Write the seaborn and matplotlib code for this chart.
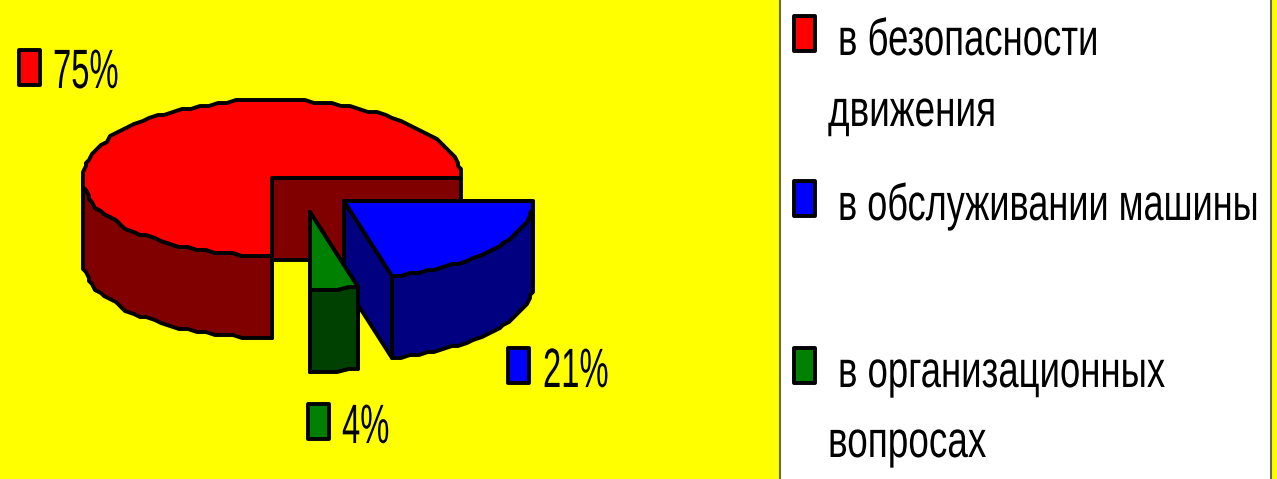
import numpy as np
import matplotlib
matplotlib.use('Agg')
import matplotlib.pyplot as plt
import matplotlib.patheffects as pe
from matplotlib.transforms import Affine2D
import seaborn as sns

# Chart data
shares = [75, 21, 4]
pct_labels = ['75%', '21%', '4%']
legend_lines = ['в безопасности', 'движения', 'в обслуживании машины', 'в организационных', 'вопросах']

top_colors = sns.color_palette(['#ff0000', '#0000ff', '#008000'])
side_colors = sns.color_palette(['#800000', '#000080', '#004000'])

# Pie geometry in image pixels
CX, CY, RX, RY, DEPTH = 272, 178, 189, 78, 82
explode = [(0, 0), (72, 23), (38, 34)]


# The source is a stretched picture, so its letters are too tall for their width
class VStretch(pe.AbstractPathEffect):
    def __init__(self, sy):
        super().__init__()
        self.sy = sy

    def draw_path(self, renderer, gc, tpath, affine, rgbFace=None):
        renderer.draw_path(gc, tpath, Affine2D().scale(1, self.sy) + affine, rgbFace)


def edge_point(angle, dx, dy):
    rad = np.radians(angle)
    # low-res bitmap look, the rim goes in little steps
    x = np.round(RX * np.cos(rad) / 3) * 3
    y = np.round(RY * np.sin(rad) / 3) * 3
    return CX + dx + x, CY + dy - y


def draw_slice(ax, a0, a1, dx, dy, top, side):
    apex = (CX + dx, CY + dy)
    angles = np.linspace(a0, a1, int(abs(a1 - a0) / 3) + 2)
    xs, ys = edge_point(angles, dx, dy)
    style = dict(edgecolor='black', linewidth=2.8, joinstyle='round')

    # cut faces first, then the rim, then the top
    for x_end, y_end in [(xs[0], ys[0]), (xs[-1], ys[-1])]:
        ax.fill([apex[0], x_end, x_end, apex[0]],
                [apex[1], y_end, y_end + DEPTH, apex[1] + DEPTH], facecolor=side, **style)
    front = np.sin(np.radians(angles)) <= 0
    if front.any():
        fx, fy = xs[front], ys[front]
        ax.fill(np.r_[fx, fx[::-1]], np.r_[fy, fy[::-1] + DEPTH], facecolor=side, **style)
    ax.fill(np.r_[apex[0], xs], np.r_[apex[1], ys], facecolor=top, **style)


def draw_key(ax, x, y, color):
    ax.add_patch(plt.Rectangle((x, y), 21, 35, facecolor=color, edgecolor='black', linewidth=2.8,
                               joinstyle='round'))


def draw_text(ax, x, y, s, size, sy):
    ax.text(x, y, s, fontsize=size, color='black', ha='left', va='baseline',
            path_effects=[VStretch(sy)])


sns.set_theme(style='white')
plt.rcParams['font.family'] = ['Liberation Sans', 'DejaVu Sans']

fig = plt.figure(figsize=(12.77, 4.79), dpi=100, facecolor='#ffff00')
ax = fig.add_axes([0, 0, 1, 1])
ax.set_xlim(0, 1277)
ax.set_ylim(479, 0)
ax.axis('off')

# Slices run clockwise from the bottom of the pie
stops = -90 - np.cumsum([0] + shares) * 3.6
for i in [0, 1, 2]:
    draw_slice(ax, stops[i], stops[i + 1], explode[i][0], explode[i][1], top_colors[i], side_colors[i])

# Value labels
draw_key(ax, 19, 50, top_colors[0])
draw_text(ax, 53, 88, pct_labels[0], 23.6, 1.69)
draw_key(ax, 508, 348, top_colors[1])
draw_text(ax, 543, 387, pct_labels[1], 23.6, 1.69)
draw_key(ax, 308, 404, top_colors[2])
draw_text(ax, 342, 443, pct_labels[2], 23.6, 1.69)

# Legend panel
ax.add_patch(plt.Rectangle((780, -5), 491, 490, facecolor='white', edgecolor='#6b6b40', linewidth=1.5))
draw_key(ax, 794, 16, top_colors[0])
draw_key(ax, 794, 181, top_colors[1])
draw_key(ax, 794, 348, top_colors[2])
draw_text(ax, 838, 55, legend_lines[0], 26.3, 1.41)
draw_text(ax, 828, 126, legend_lines[1], 26.6, 1.39)
draw_text(ax, 838, 220, legend_lines[2], 26, 1.42)
draw_text(ax, 838, 387, legend_lines[3], 26.3, 1.41)
draw_text(ax, 828, 457, legend_lines[4], 26.6, 1.39)

fig.savefig('out.png', dpi=100, facecolor=fig.get_facecolor())
